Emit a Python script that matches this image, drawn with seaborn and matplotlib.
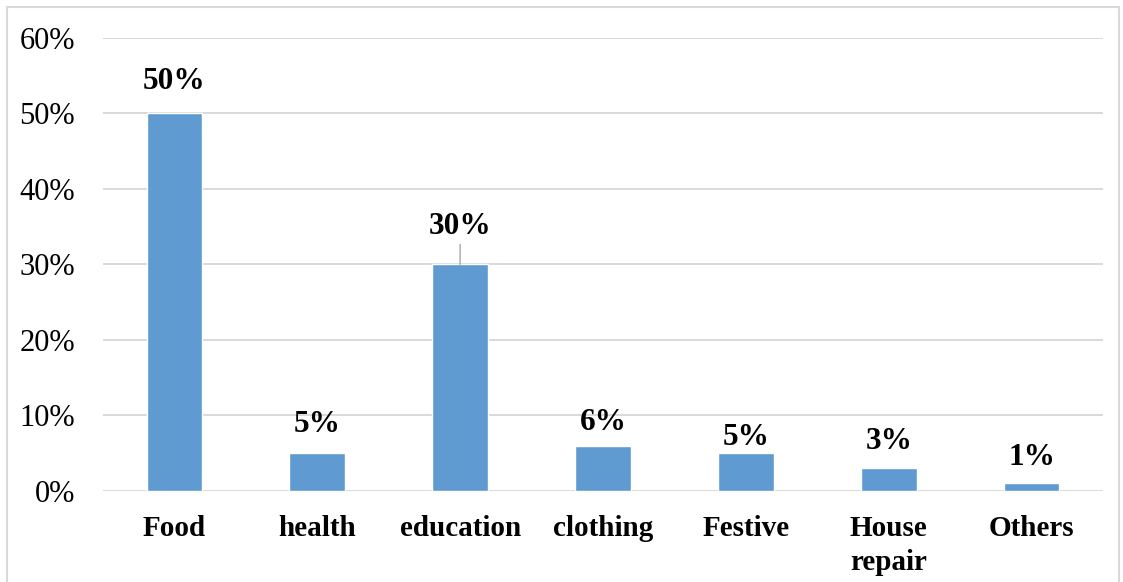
import matplotlib
matplotlib.use("Agg")
import matplotlib.pyplot as plt
import seaborn as sns
import pandas as pd
from matplotlib.patches import Rectangle
from matplotlib.ticker import FuncFormatter

categories = ["Food", "health", "education", "clothing", "Festive", "House\nrepair", "Others"]
shares = [50, 5, 30, 6, 5, 3, 1]
# distance (points) from each bar top to the centre of its value label
label_gaps = [23, 21, 27, 17, 11, 19, 19]

sns.set_theme(style="white")
plt.rcParams["font.family"] = ["Liberation Serif", "DejaVu Serif"]

df = pd.DataFrame({"category": categories, "share": shares})

fig = plt.figure(figsize=(11.23, 5.82), dpi=100)
ax = fig.add_axes([0.0917, 0.1564, 0.8905, 0.7783])

sns.barplot(data=df, x="category", y="share", color="#5F9BD1", saturation=1,
            width=0.39, ax=ax, zorder=3)

ax.set_ylim(0, 60)
ax.set_yticks(range(0, 61, 10))
ax.yaxis.set_major_formatter(FuncFormatter(lambda v, _: f"{int(v)}%"))
ax.grid(axis="y", color="#D9D9D9", linewidth=1.4, zorder=0)
ax.set_axisbelow(True)
for s in ax.spines.values():
    s.set_visible(False)
ax.set_xlabel("")
ax.set_ylabel("")
ax.tick_params(axis="y", labelsize=22, pad=20, colors="black", length=0)
ax.tick_params(axis="x", labelsize=21, pad=17, colors="black", length=0)
for t in ax.get_xticklabels():
    t.set_fontweight("bold")
    t.set_linespacing(1.35)
    t.set_verticalalignment("top")

for i, (v, gap) in enumerate(zip(shares, label_gaps)):
    ax.annotate(f"{v}%", xy=(i, v), xytext=(0, gap), textcoords="offset points",
                ha="center", va="center", fontsize=22.5, fontweight="bold",
                color="black", zorder=4)

# leader line tying the education label to its bar
edu = categories.index("education")
ax.annotate("", xy=(edu, shares[edu]), xytext=(0, 14.5), textcoords="offset points",
            arrowprops=dict(arrowstyle="-", color="#A6A6A6", lw=1.0,
                            shrinkA=0, shrinkB=0), zorder=4)

fig.patches.append(Rectangle((7 / 1123, -0.05), 1112 / 1123, 1.05 - 7 / 582,
                             transform=fig.transFigure, fill=False,
                             edgecolor="#D9D9D9", linewidth=1.5))

fig.savefig("out.png", dpi=100)
